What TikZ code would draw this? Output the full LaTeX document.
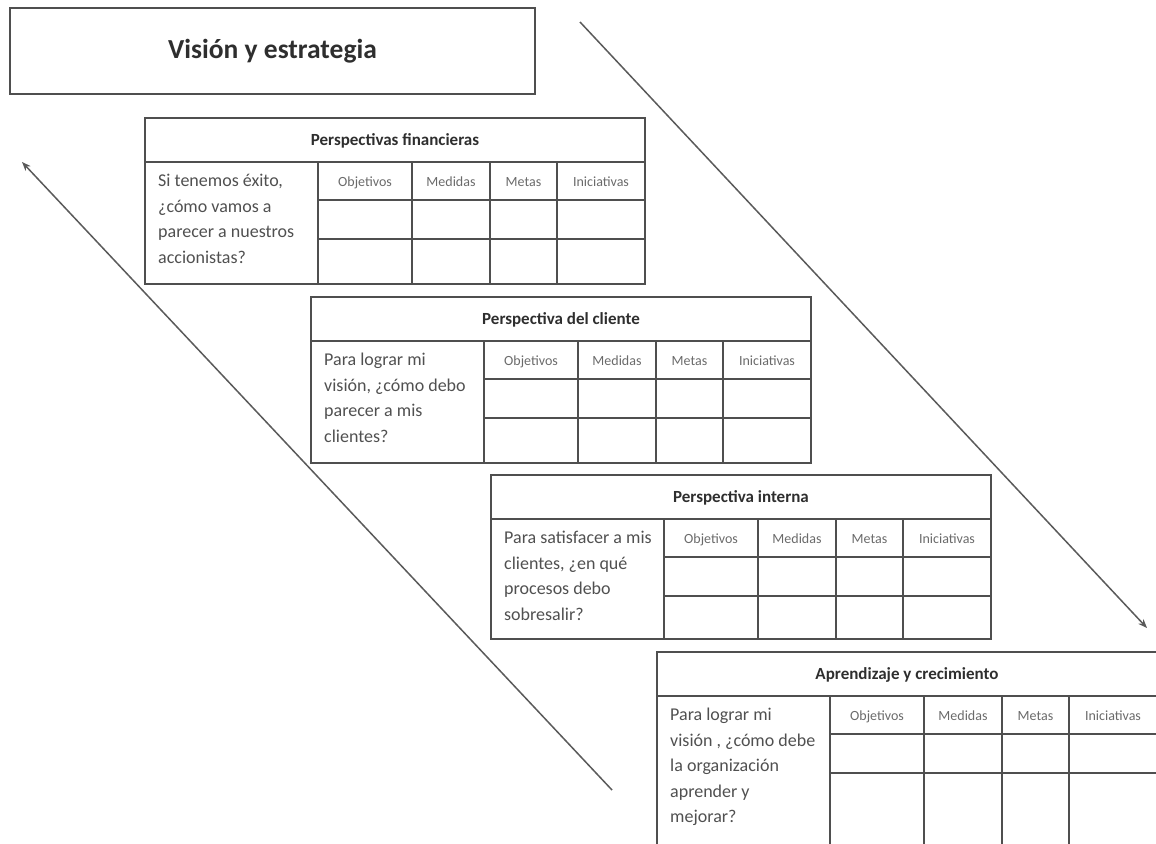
\documentclass[tikz,border=0pt]{standalone}
\usepackage{fontspec}
\setmainfont{Carlito}
\usetikzlibrary{arrows.meta}
\definecolor{bsline}  {HTML}{4F4F4F}
\definecolor{bstext}  {HTML}{2E2E2E}
\definecolor{bsmuted} {HTML}{505050}
\definecolor{bslabel} {HTML}{6A6A6A}
\definecolor{bsarrow} {HTML}{5A5A5A}

\begin{document}
\begin{tikzpicture}[x=1pt, y=-1pt, every node/.style={inner sep=0pt}]
  \useasboundingbox (0,0) rectangle (1156,843);
  \clip (0,0) rectangle (1156,843);
  \node[draw=bsline, line width=1.6pt, minimum width=525pt, minimum height=86pt,
        font=\fontsize{27.5}{32}\selectfont\bfseries, text=bstext]
    (vision) at (272.5,51) {\raisebox{-2pt}{Visión y estrategia}};
  % the four perspectives, one below the other
  \foreach \ox/\oy/\bot/\key/\head/\quest in {
      145/118/166/fin/{Perspectivas financieras}/{Si tenemos éxito,\\¿cómo vamos a\\parecer a nuestros\\accionistas?},
      311/297/166/cli/{Perspectiva del cliente}/{Para lograr mi\\visión, ¿cómo debo\\parecer a mis\\clientes?},
      491/475/164/int/{Perspectiva interna}/{Para satisfacer a mis\\clientes, ¿en qué\\procesos debo\\sobresalir?},
      657/652/200/apr/{Aprendizaje y crecimiento}/{Para lograr mi\\visión , ¿cómo debe\\la organización\\aprender y\\mejorar?}}
  {
    \begin{scope}[shift={(\ox,\oy)}]
      \draw[bsline, line width=1.4pt] (0,0) rectangle (500,\bot);
      \draw[bsline, line width=1.4pt] (0,44) -- (500,44);
      \draw[bsline, line width=1.4pt] (173,82) -- (500,82) (173,121) -- (500,121);
      \foreach \cx in {173,267,345,412}
        \draw[bsline, line width=1.4pt] (\cx,44) -- (\cx,\bot);
      \node[font=\fontsize{17}{20}\selectfont\bfseries, text=bstext]
        (\key-head) at (250,23) {\head};
      \node[anchor=north west, align=left, text=bsmuted,
            font=\fontsize{18}{25.5}\selectfont]
        (\key-q) at (13,56) {\quest};
      \foreach \cx/\lab in {220/Objetivos, 306/Medidas, 378.5/Metas, 456/Iniciativas}
        \node[anchor=base, font=\fontsize{14}{16}\selectfont, text=bslabel]
          (\key-\lab) at (\cx,68) {\lab};
    \end{scope}
  }
  % cause and effect arrows
  \coordinate (down-start) at (580,22);
  \coordinate (down-end)   at (1147,628);
  \coordinate (up-start)   at (612,790);
  \coordinate (up-end)     at (22,162);
  \draw[bsarrow, line width=1.5pt, -{Stealth[length=9pt, width=7pt]}] (down-start) -- (down-end);
  \draw[bsarrow, line width=1.5pt, -{Stealth[length=9pt, width=7pt]}] (up-start) -- (up-end);
\end{tikzpicture}
\end{document}
